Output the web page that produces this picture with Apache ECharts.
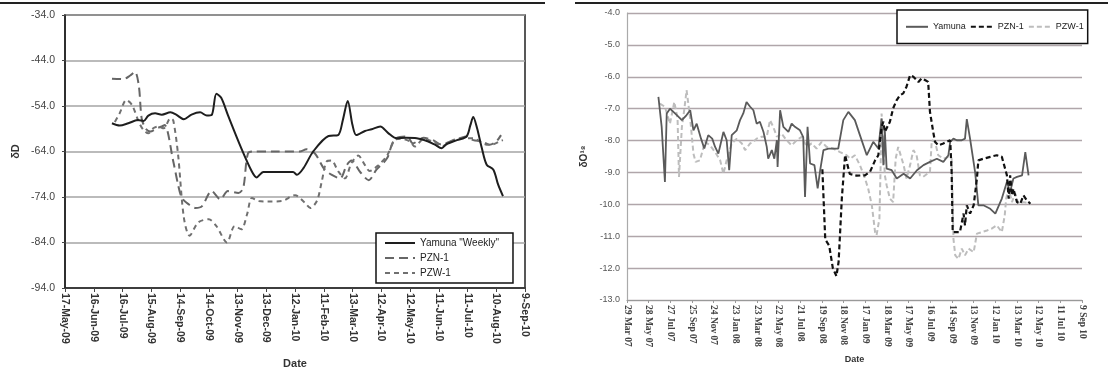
<!DOCTYPE html>
<html>
<head>
<meta charset="utf-8">
<script src="https://cdn.jsdelivr.net/npm/echarts@6/dist/echarts.min.js"></script>
<style>
  html, body { margin: 0; padding: 0; background: #fff; }
  #chart { width: 1108px; height: 374px; }
</style>
</head>
<body>
<div id="chart"></div>
<script>
// left panel: x = days since 17-May-09, [day, δD]
var leftTicks = ['17-May-09','16-Jun-09','16-Jul-09','15-Aug-09','14-Sep-09','14-Oct-09','13-Nov-09','13-Dec-09','12-Jan-10','11-Feb-10','13-Mar-10','12-Apr-10','12-May-10','11-Jun-10','11-Jul-10','10-Aug-10','9-Sep-10'];
var yamunaWeekly = [[49,-57.8],[57,-58.3],[66,-57.8],[76,-57.1],[82,-57.3],[87,-56.1],[94,-55.6],[101,-55.9],[110,-55.4],[116,-55.9],[124,-56.9],[132,-55.9],[141,-55.4],[148,-56.1],[153,-56.0],[158,-51.3],[163,-52.2],[170,-56.0],[184,-63.3],[195,-68.4],[200,-69.7],[207,-68.5],[226,-68.5],[238,-68.5],[242,-69.1],[249,-67.6],[259,-64.0],[275,-60.6],[285,-60.4],[290,-57.0],[295,-52.9],[300,-58.2],[304,-60.4],[313,-59.5],[320,-59.1],[329,-58.5],[337,-59.9],[346,-61.1],[356,-61.0],[367,-61.1],[379,-61.8],[386,-62.5],[393,-63.3],[398,-62.4],[409,-61.5],[419,-60.7],[423,-58.2],[426,-56.4],[430,-58.9],[435,-63.3],[440,-66.9],[447,-68.0],[452,-71.3],[457,-73.8]];
var pznLeft = [[49,-48.0],[61,-48.1],[68,-47.3],[73,-46.5],[77,-49.5],[80,-56.7],[84,-58.9],[89,-59.6],[96,-58.9],[101,-58.5],[104,-58.2],[113,-66.2],[118,-71.3],[122,-74.2],[129,-75.6],[136,-76.4],[143,-76.0],[153,-72.7],[162,-74.5],[170,-72.7],[181,-73.1],[186,-72.0],[191,-64.4],[198,-64.0],[215,-64.0],[245,-64.0],[252,-63.5],[261,-64.5],[270,-67.7],[278,-69.1],[287,-69.9],[294,-67.0],[299,-66.0],[308,-68.5],[317,-70.3],[325,-68.0],[336,-65.5],[344,-61.3],[357,-60.7],[363,-62.2],[374,-61.0],[384,-61.5],[393,-62.5],[402,-61.8],[412,-61.1],[419,-60.7],[426,-61.5],[435,-61.8],[443,-62.5],[450,-61.8],[455,-60.4]];
var pzwLeft = [[52,-57.5],[57,-55.6],[64,-52.7],[70,-53.8],[77,-57.5],[82,-59.3],[87,-60.0],[92,-58.9],[97,-58.5],[103,-58.9],[110,-56.7],[113,-57.2],[118,-64.7],[124,-78.5],[130,-82.5],[139,-79.6],[150,-78.9],[158,-80.4],[169,-84.0],[177,-80.4],[184,-81.1],[190,-77.8],[195,-74.2],[202,-74.9],[212,-75.0],[226,-74.9],[240,-73.6],[250,-75.2],[256,-76.4],[263,-74.8],[268,-70.5],[273,-66.2],[278,-66.0],[285,-68.3],[292,-69.9],[299,-66.5],[306,-64.9],[313,-67.0],[318,-68.3],[327,-67.0],[336,-64.9],[344,-61.5],[350,-61.2],[360,-61.8],[365,-62.9],[374,-61.3],[384,-61.8],[394,-62.8],[405,-61.5],[415,-61.1],[426,-61.1],[433,-61.8],[440,-62.5],[447,-62.4],[454,-61.7],[457,-61.5]];

// right panel: x = days since 29-Mar-07, [day, δO18]
var rightTicks = ['29 Mar 07','28 May 07','27 Jul 07','25 Sep 07','24 Nov 07','23 Jan 08','23 Mar 08','22 May 08','21 Jul 08','19 Sep 08','18 Nov 08','17 Jan 09','18 Mar 09','17 May 09','16 Jul 09','14 Sep 09','13 Nov 09','12 Jan 10','13 Mar 10','12 May 10','11 Jul 10','9 Sep 10'];
var yamunaRight = [[87,-6.63],[96,-7.57],[105,-9.30],[110,-7.15],[119,-7.00],[138,-7.20],[152,-7.36],[165,-7.20],[175,-7.05],[184,-7.68],[193,-7.47],[205,-7.94],[214,-8.25],[225,-7.83],[236,-7.94],[244,-8.20],[253,-8.41],[267,-7.73],[276,-7.99],[283,-8.93],[290,-7.83],[304,-7.68],[313,-7.36],[322,-7.15],[331,-6.79],[341,-6.94],[350,-7.05],[359,-7.47],[368,-7.41],[378,-7.73],[387,-8.20],[391,-8.57],[401,-8.30],[408,-8.57],[415,-7.99],[417,-8.83],[424,-7.05],[433,-7.57],[447,-7.73],[456,-7.47],[465,-7.57],[479,-7.68],[488,-7.89],[493,-9.77],[500,-7.57],[507,-8.72],[519,-8.77],[528,-9.50],[535,-8.93],[544,-8.30],[558,-8.25],[585,-8.25],[599,-7.36],[613,-7.10],[631,-7.36],[645,-7.83],[664,-8.46],[682,-8.04],[696,-8.25],[705,-7.31],[710,-8.77],[714,-7.68],[719,-8.88],[733,-8.93],[747,-9.19],[766,-9.04],[784,-9.19],[803,-8.93],[821,-8.77],[839,-8.67],[858,-8.57],[876,-8.67],[890,-8.46],[895,-8.04],[904,-7.94],[913,-7.99],[927,-7.99],[936,-7.94],[941,-7.33],[950,-7.94],[964,-8.99],[973,-10.03],[987,-10.03],[1006,-10.14],[1020,-10.29],[1038,-9.82],[1052,-9.30],[1061,-9.61],[1070,-9.19],[1080,-9.14],[1094,-9.09],[1103,-8.36],[1112,-9.09]];
var pznRight = [[541,-8.90],[549,-11.10],[560,-11.30],[570,-12.00],[580,-12.25],[586,-11.80],[595,-9.80],[604,-8.45],[609,-8.70],[617,-9.05],[636,-9.10],[659,-9.09],[673,-8.98],[687,-8.62],[696,-8.46],[705,-7.57],[710,-7.41],[714,-7.73],[719,-7.68],[728,-7.41],[737,-6.99],[747,-6.73],[756,-6.58],[765,-6.52],[774,-6.31],[784,-5.95],[793,-6.00],[807,-6.16],[816,-6.05],[825,-6.10],[834,-6.16],[839,-7.10],[848,-7.73],[853,-8.04],[862,-8.15],[876,-8.09],[895,-7.99],[899,-8.98],[902,-10.87],[913,-10.87],[922,-10.87],[932,-10.29],[936,-10.66],[941,-10.03],[950,-10.29],[960,-10.03],[969,-9.19],[973,-8.62],[987,-8.57],[1006,-8.51],[1024,-8.46],[1038,-8.51],[1047,-8.88],[1052,-9.09],[1057,-9.82],[1061,-9.09],[1066,-9.72],[1070,-9.51],[1080,-9.93],[1089,-9.98],[1098,-9.72],[1107,-9.87],[1117,-9.98]];
var pzwRight = [[91,-6.84],[105,-6.94],[119,-7.47],[131,-6.79],[140,-7.31],[144,-9.14],[152,-7.57],[159,-7.00],[165,-6.42],[175,-7.31],[184,-8.41],[190,-8.67],[202,-8.62],[216,-8.04],[230,-8.15],[244,-8.36],[258,-8.62],[267,-9.04],[276,-8.62],[290,-8.09],[304,-7.94],[318,-8.09],[327,-8.30],[341,-8.09],[350,-8.04],[359,-7.94],[373,-7.88],[387,-7.88],[396,-7.36],[405,-7.57],[415,-7.88],[428,-7.78],[442,-7.99],[456,-8.15],[470,-7.99],[484,-7.88],[498,-8.20],[511,-8.09],[525,-8.25],[539,-8.04],[553,-8.20],[571,-8.25],[590,-8.36],[608,-8.46],[618,-8.57],[631,-8.46],[645,-8.77],[659,-9.19],[668,-9.51],[678,-10.03],[687,-10.87],[691,-10.97],[699,-10.45],[702,-8.98],[705,-7.15],[710,-8.04],[714,-9.09],[719,-9.40],[728,-9.82],[737,-9.93],[744,-8.57],[751,-8.20],[766,-8.77],[774,-9.19],[784,-8.77],[793,-8.30],[802,-8.46],[811,-9.09],[820,-9.14],[839,-8.98],[844,-7.99],[853,-8.04],[862,-8.46],[876,-8.57],[890,-8.51],[899,-8.57],[904,-11.08],[909,-11.60],[918,-11.71],[927,-11.39],[936,-11.60],[946,-11.39],[960,-11.50],[969,-10.92],[983,-10.87],[997,-10.82],[1010,-10.76],[1024,-10.66],[1038,-10.87],[1046,-10.35],[1050,-9.82],[1057,-9.51],[1066,-9.93],[1075,-9.66],[1084,-9.98],[1098,-9.93],[1117,-9.98]];

var font = 'Liberation Sans';
// legend symbol hidden so only the line sample shows
var noMarker = { color: 'rgba(0,0,0,0)', borderColor: 'rgba(0,0,0,0)', borderWidth: 0 };
var myChart = echarts.init(document.getElementById('chart'));
var option = {
    animation: false,
    backgroundColor: '#fff',
    textStyle: { fontFamily: font },
    graphic: [
        { type: 'line', shape: { x1: 0, y1: 3, x2: 545, y2: 3 }, style: { stroke: '#222', lineWidth: 2 } },
        { type: 'line', shape: { x1: 575, y1: 3, x2: 1108, y2: 3 }, style: { stroke: '#222', lineWidth: 2 } }
    ],
    grid: [
        { left: 65, top: 15, width: 460, height: 276, show: true, borderColor: '#222', borderWidth: 1.5, backgroundColor: '#fff' },
        { left: 627, top: 13, width: 455, height: 287 }
    ],
    legend: [
        {
            data: ['Yamuna "Weekly"', 'PZN-1', 'PZW-1'],
            left: 376, top: 233, orient: 'vertical',
            backgroundColor: '#fff', borderColor: '#111', borderWidth: 1.5,
            padding: [5, 14, 5, 8], itemGap: 5, itemWidth: 30, itemHeight: 11,
            itemStyle: noMarker,
            textStyle: { fontSize: 10, color: '#222', fontFamily: font }
        },
        {
            data: ['r:Yamuna', 'r:PZN-1', 'r:PZW-1'],
            formatter: function (n) { return n.replace('r:', ''); },
            left: 897, top: 10, orient: 'horizontal',
            backgroundColor: '#fff', borderColor: '#111', borderWidth: 1.5,
            padding: [12, 4, 12, 8], itemGap: 4, itemWidth: 22, itemHeight: 12,
            itemStyle: noMarker,
            textStyle: { fontSize: 9, color: '#222', fontFamily: font }
        }
    ],
    xAxis: [
        {
            gridIndex: 0, type: 'value', min: 0, max: 480, interval: 30,
            name: 'Date', nameLocation: 'middle', nameGap: 70,
            nameTextStyle: { fontSize: 11, fontWeight: 'bold', color: '#333', fontFamily: font },
            axisLine: { lineStyle: { color: '#222', width: 1.5 } },
            axisTick: { show: true, length: 4, lineStyle: { color: '#444' } },
            splitLine: { show: false },
            axisLabel: {
                rotate: -90, margin: 5, fontSize: 10.5, fontWeight: 'bold', color: '#333', fontFamily: font,
                formatter: function (v) { return leftTicks[Math.round(v / 30)]; }
            }
        },
        {
            gridIndex: 1, type: 'value', min: 0, max: 1260, interval: 60,
            name: 'Date', nameLocation: 'middle', nameGap: 55,
            nameTextStyle: { fontSize: 9, fontWeight: 'bold', color: '#333', fontFamily: font },
            axisLine: { lineStyle: { color: '#999', width: 1.2 } },
            axisTick: { show: true, length: 3, lineStyle: { color: '#999' } },
            splitLine: { show: false },
            axisLabel: {
                rotate: -90, margin: 5, fontSize: 9.5, fontWeight: 'bold', color: '#444', fontFamily: 'Liberation Serif',
                formatter: function (v) { return rightTicks[Math.round(v / 60)]; }
            }
        }
    ],
    yAxis: [
        {
            gridIndex: 0, type: 'value', min: -94, max: -34, interval: 10,
            name: 'δD', nameLocation: 'middle', nameGap: 44, nameRotate: 90,
            nameTextStyle: { fontSize: 11, fontWeight: 'bold', color: '#333', fontFamily: font },
            axisLine: { show: true, lineStyle: { color: '#222', width: 1.5 } },
            axisTick: { show: true, length: 3, lineStyle: { color: '#444' } },
            splitLine: { lineStyle: { color: '#a5a5a5', width: 1.5 } },
            axisLabel: { fontSize: 10.5, color: '#444', margin: 10, fontFamily: font,
                formatter: function (v) { return v.toFixed(1); } }
        },
        {
            gridIndex: 1, type: 'value', min: -13, max: -4, interval: 1,
            name: 'δO¹⁸', nameLocation: 'middle', nameGap: 38, nameRotate: 90,
            nameTextStyle: { fontSize: 10, fontWeight: 'bold', color: '#333', fontFamily: font },
            axisLine: { show: true, lineStyle: { color: '#aaa', width: 1.2 } },
            axisTick: { show: false },
            splitLine: { lineStyle: { color: '#b0a6aa', width: 1.3 } },
            axisLabel: { fontSize: 9, color: '#555', margin: 7, fontFamily: font,
                formatter: function (v) { return v.toFixed(1); } }
        }
    ],
    series: [
        { name: 'Yamuna "Weekly"', type: 'line', xAxisIndex: 0, yAxisIndex: 0, data: yamunaWeekly,
          symbol: 'none', smooth: 0.3, z: 5, lineStyle: { color: '#1e1e1e', width: 2 }, itemStyle: { color: '#1e1e1e' } },
        { name: 'PZN-1', type: 'line', xAxisIndex: 0, yAxisIndex: 0, data: pznLeft,
          symbol: 'none', smooth: 0.3, z: 3, lineStyle: { color: '#666', width: 2, type: [9, 5] }, itemStyle: { color: '#666' } },
        { name: 'PZW-1', type: 'line', xAxisIndex: 0, yAxisIndex: 0, data: pzwLeft,
          symbol: 'none', smooth: 0.3, z: 3, lineStyle: { color: '#707070', width: 2, type: [5, 4] }, itemStyle: { color: '#707070' } },
        { name: 'r:Yamuna', type: 'line', xAxisIndex: 1, yAxisIndex: 1, data: yamunaRight,
          symbol: 'none', z: 4, lineStyle: { color: '#5a5a5a', width: 1.8 }, itemStyle: { color: '#5a5a5a' } },
        { name: 'r:PZN-1', type: 'line', xAxisIndex: 1, yAxisIndex: 1, data: pznRight,
          symbol: 'none', z: 5, lineStyle: { color: '#111', width: 2.2, type: [5, 3] }, itemStyle: { color: '#111' } },
        { name: 'r:PZW-1', type: 'line', xAxisIndex: 1, yAxisIndex: 1, data: pzwRight,
          symbol: 'none', z: 3, lineStyle: { color: '#bdbdbd', width: 2, type: [5, 3] }, itemStyle: { color: '#bdbdbd' } }
    ]
};
myChart.setOption(option);
</script>
</body>
</html>
